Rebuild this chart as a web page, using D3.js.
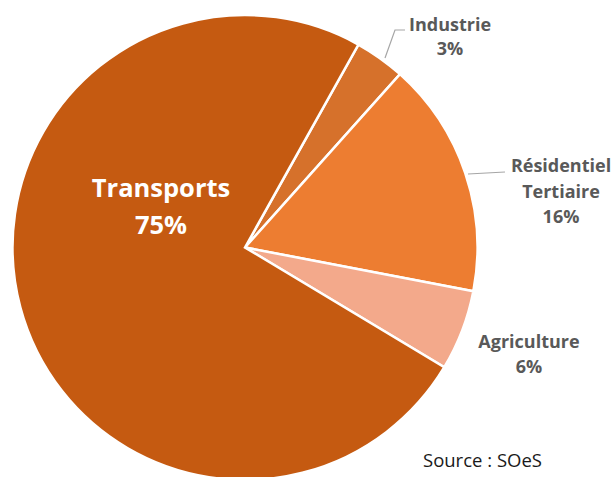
<!DOCTYPE html>
<html>
<head>
	<meta charset="utf-8">
	<title>Pie</title>
	<style>
		body { margin: 0; background: #fff; }
		text { font-family: "Open Sans", sans-serif; }
	</style>
</head>
<body>
	<svg id="container" width="615" height="477"></svg>
</body>
<script src="https://cdn.jsdelivr.net/npm/d3@7"></script>
<script>
	// slices in drawing order (clockwise, starting just right of 12 o'clock)
	let sectors = ["Industrie", "Résidentiel Tertiaire", "Agriculture", "Transports"]
	let shares = [3.5, 16.4, 5.6, 74.5]
	let shareLabels = ["3%", "16%", "6%", "75%"]
	let colors = ["#D6712B", "#ED7D31", "#F3A98B", "#C55A11"]

	let svg = d3.select("#container")
	let cx = 245, cy = 247.5, r = 232.5
	let body = svg.append("g").attr("transform", `translate(${cx},${cy})`)

	let startA = 29.2 * Math.PI / 180
	let pie = d3.pie().sort(null).value(d => d.value)
		.startAngle(startA).endAngle(startA + 2 * Math.PI)
	let arc = d3.arc().innerRadius(0).outerRadius(r)

	let data = sectors.map((s, i) => ({ name: s, value: shares[i], label: shareLabels[i], color: colors[i] }))
	let arcs = pie(data)

	body.selectAll("path")
		.data(arcs)
		.enter()
		.append("path")
		.attr("d", arc)
		.style("fill", d => d.data.color)
		.style("stroke", "white")
		.style("stroke-width", 2.5)
		.style("stroke-linejoin", "miter")

	// leader lines (Industrie, Résidentiel)
	let leaders = [
		[[385, 58], [395, 30], [405, 30]],
		[[468, 174], [505, 172]]
	]
	svg.selectAll("polyline")
		.data(leaders)
		.enter()
		.append("polyline")
		.attr("points", d => d.map(p => p.join(",")).join(" "))
		.style("fill", "none")
		.style("stroke", "#A6A6A6")
		.style("stroke-width", 1.2)

	// labels: centre x, first baseline, line step, size, colour
	let labelPos = {
		"Industrie": { x: 450, y: 31, step: 24, size: 18, fill: "#595959" },
		"Résidentiel Tertiaire": { x: 561, y: 172, step: 25.5, size: 18, fill: "#595959" },
		"Agriculture": { x: 529, y: 348, step: 25, size: 18, fill: "#595959" },
		"Transports": { x: 161, y: 197, step: 37, size: 25.5, fill: "#FFFFFF" }
	}

	arcs.forEach(a => {
		let p = labelPos[a.data.name]
		let lines = a.data.name.split(" ").concat([a.data.label])
		let t = svg.append("text")
			.attr("text-anchor", "middle")
			.style("font-weight", "bold")
			.style("font-size", p.size + "px")
			.style("fill", p.fill)
		lines.forEach((l, i) => {
			t.append("tspan").attr("x", p.x).attr("y", p.y + i * p.step).text(l)
		})
	})

	svg.append("text")
		.attr("x", 423).attr("y", 467)
		.style("font-size", "18.5px")
		.style("fill", "#1a1a1a")
		.text("Source : SOeS")
</script>
</html>
